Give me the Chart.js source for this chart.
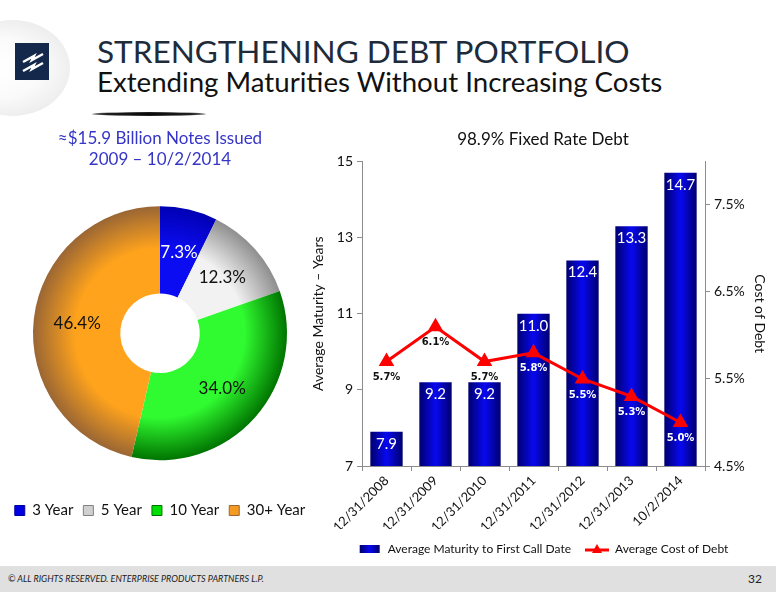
<!DOCTYPE html>
<html>
<head>
<meta charset="utf-8">
<script src="https://cdn.jsdelivr.net/npm/chart.js@4.4.1/dist/chart.umd.min.js"></script>
<style>
body{margin:0;width:776px;height:600px;position:relative;overflow:hidden;background:#fff;font-family:Lato,sans-serif}
.abs{position:absolute}
#disc{left:-45px;top:20px;width:115px;height:96px;border-radius:50%;background:radial-gradient(ellipse at 35% 50%,#fff 0%,#fafafa 45%,#ebebeb 80%,#e2e2e2 100%)}
#logo{left:15px;top:43px;width:34px;height:37px;background:#14284b}
#title{left:97px;top:36px;font-size:30px;line-height:1;color:#1e2b3a;white-space:nowrap;transform-origin:0 0}
#sub{left:97px;top:68px;font-size:27px;line-height:1;color:#111;white-space:nowrap;transform-origin:0 0}
#rule{left:92px;top:112px;width:114px;height:4px;border-radius:50%;background:radial-gradient(ellipse at center,#000 0%,#222 55%,rgba(0,0,0,0) 100%)}
#foot{left:0;top:566px;width:776px;height:26px;background:#e0e0e0}
#copy{left:8px;top:573px;font-size:9px;font-style:italic;color:#222;white-space:nowrap}
#page{right:14px;top:571px;font-size:12px;color:#222}
</style>
</head>
<body>
<div id="disc" class="abs"></div>
<div id="logo" class="abs">
  <svg width="34" height="37" viewBox="0 0 34 37">
    <path d="M8 19 L19 13 L17 17 L28 11" fill="none" stroke="#fff" stroke-width="2.4" stroke-linejoin="miter"/>
    <path d="M8 28 L19 22 L17 26 L28 20" fill="none" stroke="#fff" stroke-width="2.4" stroke-linejoin="miter"/>
  </svg>
</div>
<div id="title" class="abs">STRENGTHENING DEBT PORTFOLIO</div>
<div id="sub" class="abs">Extending Maturities Without Increasing Costs</div>
<div id="rule" class="abs"></div>

<div class="abs" style="left:0;top:120px;width:320px;height:408px"><canvas id="pie"></canvas></div>
<div class="abs" style="left:310px;top:120px;width:466px;height:445px"><canvas id="bar"></canvas></div>

<div id="foot" class="abs"></div>
<div id="copy" class="abs">© ALL RIGHTS RESERVED. ENTERPRISE PRODUCTS PARTNERS L.P.</div>
<div id="page" class="abs">32</div>

<script>
// notes issued 2009 - 10/2/2014, share by tenor (%)
const mixLabels = ['3 Year', '5 Year', '10 Year', '30+ Year'];
const mixShare = [7.3, 12.3, 34.0, 46.4];

// debt portfolio by date
const dates = ['12/31/2008', '12/31/2009', '12/31/2010', '12/31/2011', '12/31/2012', '12/31/2013', '10/2/2014'];
const maturity = [7.9, 9.2, 9.2, 11.0, 12.4, 13.3, 14.7];
const costOfDebt = [5.7, 6.1, 5.7, 5.8, 5.5, 5.3, 5.0];
const seriesNames = ['Average Maturity to First Call Date', 'Average Cost of Debt'];

const maturityTicks = [7, 9, 11, 13, 15];
const costTicks = [4.5, 5.5, 6.5, 7.5];

// slice shading, inner -> outer
const sliceShades = [['#0c0cf2', '#0000b4'], ['#f2f2f2', '#8e8e8e'], ['#30fa30', '#007400'], ['#ffa31c', '#9a6634']];
const legendFill = ['#0000e0', '#d0d0d0', '#00e000', '#f59a20'];
const legendEdge = ['#0000a0', '#808080', '#007000', '#9a6634'];

function fitWidth(id, w)
{
   var el = document.getElementById(id);
   el.style.transform = 'scaleX(' + (w / el.scrollWidth) + ')';
}
fitWidth('title', 533);
fitWidth('sub', 565);

function sliceFill(ctx)
{
   var i = ctx.dataIndex || 0;
   var ch = ctx.chart, a = ch.chartArea;
   if (!a) return sliceShades[i][0];
   var cx = (a.left + a.right) / 2, cy = (a.top + a.bottom) / 2;
   var g = ch.ctx.createRadialGradient(cx, cy, 50, cx, cy, 127);
   g.addColorStop(0, sliceShades[i][0]);
   g.addColorStop(0.45, sliceShades[i][0]);
   g.addColorStop(1, sliceShades[i][1]);
   return g;
}

function barFill(ctx)
{
   var ch = ctx.chart, xs = ch.scales.x;
   if (!xs || ctx.dataIndex === undefined) return '#0000c8';
   var cx = xs.getPixelForValue(ctx.dataIndex);
   var half = xs.width / dates.length * 0.66 / 2;
   var g = ch.ctx.createLinearGradient(cx - half, 0, cx + half, 0);
   g.addColorStop(0, '#00006e');
   g.addColorStop(0.5, '#0808f0');
   g.addColorStop(1, '#00006e');
   return g;
}

const pieLabels = {
   id: 'pieLabels',
   afterDatasetsDraw(chart) {
      var c = chart.ctx;
      c.save();
      c.font = '17px Lato';
      c.textAlign = 'center';
      c.textBaseline = 'middle';
      chart.getDatasetMeta(0).data.forEach(function (arc, i) {
         var p = arc.tooltipPosition();
         c.fillStyle = i === 0 ? '#fff' : '#111';
         c.fillText(mixShare[i].toFixed(1) + '%', p.x, p.y);
      });
      c.restore();
   }
};

// dataset 0 is the line, dataset 1 the bars
const barLabels = {
   id: 'barLabels',
   afterDatasetsDraw(chart) {
      var c = chart.ctx;
      var pts = chart.getDatasetMeta(0).data;
      var bars = chart.getDatasetMeta(1).data;
      c.save();
      c.textAlign = 'center';
      c.textBaseline = 'middle';
      c.font = '15px Lato';
      c.fillStyle = '#fff';
      bars.forEach(function (b, i) {
         c.fillText(maturity[i].toFixed(1), b.x, b.y + 12);
      });
      c.font = 'bold 10px "DejaVu Sans"';
      pts.forEach(function (p, i) {
         var y = p.y + 16;
         c.fillStyle = (y - 5 > bars[i].y) ? '#fff' : '#111';
         c.fillText(costOfDebt[i].toFixed(1) + '%', p.x, y);
      });
      c.restore();
   }
};

function makeIcon(draw)
{
   var cv = document.createElement('canvas');
   cv.width = 24; cv.height = 12;
   draw(cv.getContext('2d'));
   return cv;
}
const barIcon = makeIcon(function (c) {
   var g = c.createLinearGradient(2, 0, 22, 0);
   g.addColorStop(0, '#00006e'); g.addColorStop(0.5, '#0808f0'); g.addColorStop(1, '#00006e');
   c.fillStyle = g;
   c.fillRect(2, 2, 20, 8);
});
const lineIcon = makeIcon(function (c) {
   c.strokeStyle = '#ff0000'; c.lineWidth = 3;
   c.beginPath(); c.moveTo(0, 7); c.lineTo(24, 7); c.stroke();
   c.fillStyle = '#ff0000';
   c.beginPath(); c.moveTo(12, 1); c.lineTo(17, 10); c.lineTo(7, 10); c.closePath(); c.fill();
});

new Chart(document.getElementById('pie'), {
   type: 'doughnut',
   data: {
      labels: mixLabels,
      datasets: [{ data: mixShare, backgroundColor: sliceFill, borderWidth: 0 }]
   },
   options: {
      responsive: true,
      maintainAspectRatio: false,
      animation: false,
      radius: 127,
      cutout: 50,
      layout: { padding: 0 },
      plugins: {
         title: {
            display: true,
            text: ['≈$15.9 Billion Notes Issued', '2009 – 10/2/2014'],
            color: '#3535c8',
            font: { family: 'Lato', size: 17, weight: 'normal', lineHeight: 1.25 },
            padding: { top: 8, bottom: 3 }
         },
         legend: {
            position: 'bottom',
            labels: {
               boxWidth: 10,
               boxHeight: 10,
               padding: 10,
               color: '#111',
               font: { family: 'Lato', size: 15 },
               generateLabels: function () {
                  return mixLabels.map(function (t, i) {
                     return { text: t, fillStyle: legendFill[i], strokeStyle: legendEdge[i], lineWidth: 1, hidden: false, index: i, fontColor: '#111' };
                  });
               }
            }
         },
         tooltip: { enabled: false }
      }
   },
   plugins: [pieLabels]
});

new Chart(document.getElementById('bar'), {
   type: 'bar',
   data: {
      labels: dates,
      datasets: [
         {
            type: 'line',
            label: seriesNames[1],
            data: costOfDebt,
            yAxisID: 'y1',
            order: 0,
            borderColor: '#ff0000',
            backgroundColor: '#ff0000',
            borderWidth: 3,
            tension: 0,
            pointStyle: 'triangle',
            pointRadius: 6,
            pointBackgroundColor: '#ff0000',
            pointBorderColor: '#ff0000'
         },
         {
            label: seriesNames[0],
            data: maturity,
            yAxisID: 'y',
            order: 1,
            backgroundColor: barFill,
            barPercentage: 0.66,
            categoryPercentage: 1
         }
      ]
   },
   options: {
      responsive: true,
      maintainAspectRatio: false,
      animation: false,
      layout: { padding: 0 },
      scales: {
         x: {
            ticks: { color: '#111', font: { family: 'Lato', size: 13 }, maxRotation: 45, minRotation: 45, padding: 2 },
            grid: { drawOnChartArea: false, tickLength: 5, color: '#8c8c8c' },
            border: { color: '#8c8c8c' },
            afterFit: function (s) { s.height = 63; }
         },
         y: {
            position: 'left',
            min: 7,
            max: 15,
            afterBuildTicks: function (s) { s.ticks = maturityTicks.map(function (v) { return { value: v }; }); },
            ticks: { color: '#111', font: { family: 'Lato', size: 14 }, padding: 4 },
            title: { display: true, text: 'Average Maturity – Years', color: '#111', font: { family: 'Lato', size: 14 }, padding: 0 },
            grid: { drawOnChartArea: false, tickLength: 5, color: '#8c8c8c' },
            border: { color: '#8c8c8c' },
            afterFit: function (s) { s.width = 52; }
         },
         y1: {
            position: 'right',
            min: 4.5,
            max: 8,
            afterBuildTicks: function (s) { s.ticks = costTicks.map(function (v) { return { value: v }; }); },
            ticks: { color: '#111', font: { family: 'Lato', size: 14 }, padding: 4, callback: function (v) { return v.toFixed(1) + '%'; } },
            title: { display: true, text: 'Cost of Debt', color: '#111', font: { family: 'Lato', size: 14 }, padding: 8 },
            grid: { drawOnChartArea: false, tickLength: 5, color: '#8c8c8c' },
            border: { color: '#8c8c8c' },
            afterFit: function (s) { s.width = 71; }
         }
      },
      plugins: {
         title: {
            display: true,
            text: '98.9% Fixed Rate Debt',
            color: '#111',
            font: { family: 'Lato', size: 17, weight: 'normal', lineHeight: 1.2 },
            padding: { top: 9, bottom: 12 }
         },
         legend: {
            position: 'bottom',
            labels: {
               usePointStyle: true,
               pointStyleWidth: 24,
               padding: 14,
               color: '#111',
               font: { family: 'Lato', size: 12 },
               generateLabels: function () {
                  return [
                     { text: seriesNames[0], pointStyle: barIcon, hidden: false, datasetIndex: 1, fontColor: '#111', lineWidth: 0 },
                     { text: seriesNames[1], pointStyle: lineIcon, hidden: false, datasetIndex: 0, fontColor: '#111', lineWidth: 0 }
                  ];
               }
            }
         },
         tooltip: { enabled: false }
      }
   },
   plugins: [barLabels]
});
</script>
</body>
</html>
